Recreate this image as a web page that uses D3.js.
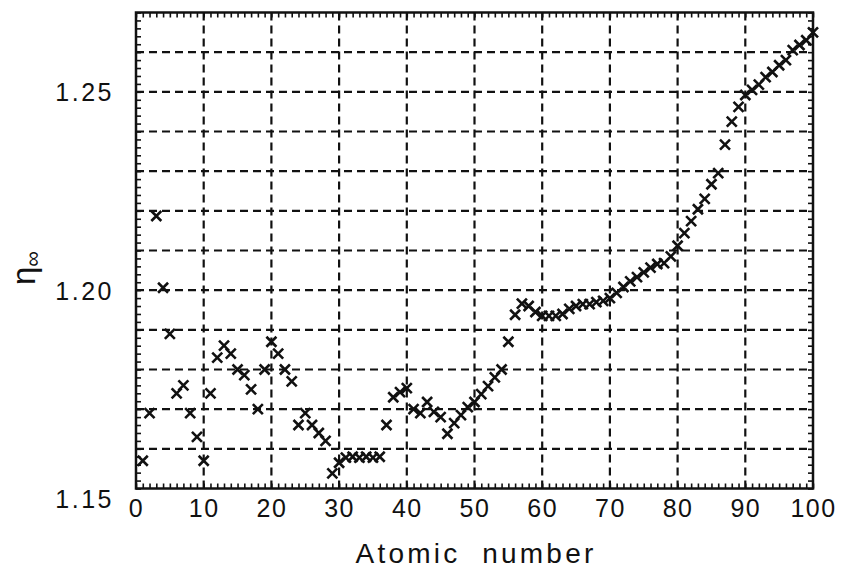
<!DOCTYPE html>
<html>
<head>
<meta charset="utf-8">
<script src="https://cdn.jsdelivr.net/npm/d3@7/dist/d3.min.js"></script>
<style>
  body { margin: 0; background: #fff; }
  text { font-family: "Liberation Sans", Arial, sans-serif; fill: #111; }
</style>
</head>
<body>
<svg id="chart" width="842" height="570"></svg>
<script>
// Atomic number Z and the limiting value eta_infinity for each element
const atomicNumbers = [
  1,2,3,4,5,6,7,8,9,10,11,12,13,14,15,16,17,18,19,20,
  21,22,23,24,25,26,27,28,29,30,31,32,33,34,35,36,37,38,39,40,
  41,42,43,44,45,46,47,48,49,50,51,52,53,54,55,56,57,58,59,60,
  61,62,63,64,65,66,67,68,69,70,71,72,73,74,75,76,77,78,79,80,
  81,82,83,84,85,86,87,88,89,90,91,92,93,94,95,96,97,98,99,100
];
const etaInf = [
  1.157, 1.169, 1.2187, 1.2006, 1.189, 1.174, 1.176, 1.169, 1.163, 1.157,
  1.174, 1.183, 1.186, 1.184, 1.180, 1.1786, 1.175, 1.170, 1.180, 1.187,
  1.184, 1.180, 1.177, 1.166, 1.169, 1.166, 1.164, 1.162, 1.1538, 1.1565,
  1.1578, 1.158, 1.1578, 1.158, 1.1578, 1.158, 1.166, 1.173, 1.1743, 1.1753,
  1.170, 1.169, 1.1718, 1.1693, 1.168, 1.1638, 1.1665, 1.1685, 1.1705, 1.1718,
  1.1738, 1.1758, 1.178, 1.180, 1.187, 1.1938, 1.1966, 1.196, 1.1945, 1.1935,
  1.1935, 1.1935, 1.194, 1.1953, 1.196, 1.1965, 1.1965, 1.197, 1.1973, 1.198,
  1.1993, 1.2008, 1.2022, 1.2033, 1.2045, 1.2057, 1.2066, 1.2068, 1.2085, 1.2112,
  1.2144, 1.2174, 1.2204, 1.223, 1.2267, 1.2295, 1.2367, 1.2425, 1.2462, 1.2492,
  1.2505, 1.2518, 1.2537, 1.255, 1.2567, 1.258, 1.2605, 1.2618, 1.263, 1.265
];

const xTickValues = [0, 10, 20, 30, 40, 50, 60, 70, 80, 90, 100];
const yTickValues = [1.15, 1.20, 1.25];
const xGridValues = [10, 20, 30, 40, 50, 60, 70, 80, 90];
const yGridValues = [1.16, 1.17, 1.18, 1.19, 1.20, 1.21, 1.22, 1.23, 1.24, 1.25, 1.26];
const xDomain = [0, 100];
const yDomain = [1.15, 1.27];
const xLabel = "Atomic  number";

const svg = d3.select("#chart");
const plotL = 136, plotR = 813, plotT = 12.5, plotB = 488.5;
const plotW = plotR - plotL, plotH = plotB - plotT;

const x = d3.scaleLinear().domain(xDomain).range([plotL, plotR]);
const y = d3.scaleLinear().domain(yDomain).range([plotB, plotT]);

const points = atomicNumbers.map((z, i) => ({ z, v: etaInf[i] }));

// dashed grid
const grid = svg.append("g")
  .attr("stroke", "#111").attr("stroke-width", 2.2).attr("stroke-dasharray", "8,5");
grid.selectAll("line.v").data(xGridValues).join("line").attr("class", "v")
  .attr("x1", d => x(d)).attr("x2", d => x(d)).attr("y1", plotT).attr("y2", plotB);
grid.selectAll("line.h").data(yGridValues).join("line").attr("class", "h")
  .attr("y1", d => y(d)).attr("y2", d => y(d)).attr("x1", plotL).attr("x2", plotR);

// minor ticks on all four sides, pointing inward
const xMinor = d3.range(0, 101, 1);
const yMinor = d3.range(0, 61).map(k => 1.15 + k * 0.002);
function minorAxis(axis, tr) {
  const g = svg.append("g").attr("transform", tr).call(axis);
  g.select(".domain").remove();
  g.selectAll(".tick line").attr("stroke", "#111").attr("stroke-width", 1.6);
  g.selectAll(".tick text").remove();
}
minorAxis(d3.axisBottom(x).tickValues(xMinor).tickSize(-5), `translate(0,${plotB})`);
minorAxis(d3.axisTop(x).tickValues(xMinor).tickSize(-5), `translate(0,${plotT})`);
minorAxis(d3.axisLeft(y).tickValues(yMinor).tickSize(-5), `translate(${plotL},0)`);
minorAxis(d3.axisRight(y).tickValues(yMinor).tickSize(-5), `translate(${plotR},0)`);

// frame
svg.append("rect")
  .attr("x", plotL).attr("y", plotT).attr("width", plotW).attr("height", plotH)
  .attr("fill", "none").attr("stroke", "#111").attr("stroke-width", 2.5);

// tick labels
const xAxis = svg.append("g").attr("transform", `translate(0,${plotB})`)
  .call(d3.axisBottom(x).tickValues(xTickValues).tickSize(0).tickPadding(0).tickFormat(d3.format("d")));
xAxis.select(".domain").remove();
xAxis.selectAll(".tick text")
  .attr("y", 28).attr("dy", 0)
  .style("font-size", "25px").style("letter-spacing", "1.5px")
  .style("font-family", '"Liberation Sans", Arial, sans-serif').attr("fill", "#111");

const yAxis = svg.append("g").attr("transform", `translate(${plotL},0)`)
  .call(d3.axisLeft(y).tickValues(yTickValues).tickSize(0).tickPadding(0).tickFormat(d3.format(".2f")));
yAxis.select(".domain").remove();
yAxis.selectAll(".tick text")
  .attr("x", -22)
  .attr("dy", d => d === 1.15 ? "19px" : "9px")
  .style("font-size", "25px").style("letter-spacing", "2.5px")
  .style("font-family", '"Liberation Sans", Arial, sans-serif').attr("fill", "#111");

// data markers (crosses)
const s = 5;
svg.append("g").selectAll("path").data(points).join("path")
  .attr("transform", d => `translate(${x(d.z)},${y(d.v)})`)
  .attr("d", `M${-s},${-s}L${s},${s}M${-s},${s}L${s},${-s}`)
  .attr("stroke", "#111").attr("stroke-width", 2.6).attr("fill", "none");

// axis titles
svg.append("text")
  .attr("x", 476).attr("y", 563).attr("text-anchor", "middle")
  .style("font-size", "28px").style("letter-spacing", "3.2px").style("white-space", "pre")
  .text(xLabel);

const yt = svg.append("text")
  .attr("transform", "translate(35,268) rotate(-90)")
  .attr("text-anchor", "middle")
  .style("font-size", "33px");
yt.append("tspan").text("η");
yt.append("tspan").attr("dy", 5).style("font-size", "22px").text("∞");
</script>
</body>
</html>
